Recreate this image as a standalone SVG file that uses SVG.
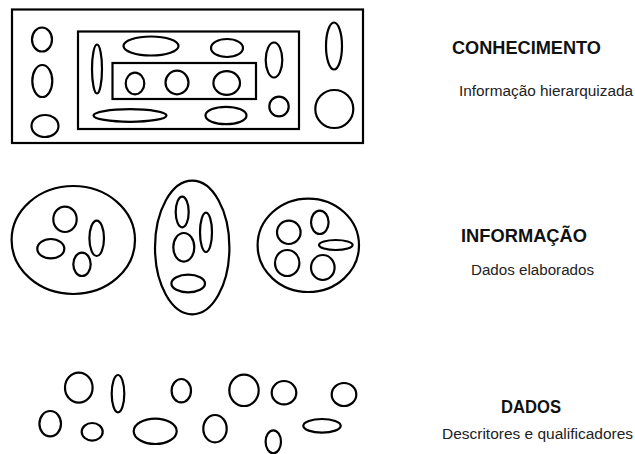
<svg xmlns="http://www.w3.org/2000/svg" width="635" height="454" viewBox="0 0 635 454">
  <style>
    .s { fill: none; stroke: #000; stroke-width: 2.2; }
    .title { font-family: "Liberation Sans", Arial, sans-serif; font-weight: bold; font-size: 17.5px; fill: #111; }
    .sub { font-family: "Liberation Sans", Arial, sans-serif; font-size: 15.5px; fill: #222; }
  </style>
  <rect width="635" height="454" fill="#fff"/>

  <!-- Knowledge: nested frames holding organised elements -->
  <g id="conhecimento">
    <rect class="s" x="12" y="9.5" width="351" height="133.5"/>
    <rect class="s" x="78" y="31.5" width="221" height="97.5"/>
    <rect class="s" x="112.5" y="63" width="143.5" height="36"/>
    <ellipse class="s" cx="42" cy="39.5" rx="10" ry="12"/>
    <ellipse class="s" cx="42.3" cy="81" rx="10" ry="16"/>
    <ellipse class="s" cx="45" cy="126" rx="13.5" ry="11"/>
    <ellipse class="s" cx="97" cy="69" rx="5" ry="24.5"/>
    <ellipse class="s" cx="151" cy="46" rx="27.5" ry="9.5"/>
    <ellipse class="s" cx="227" cy="48" rx="16" ry="9"/>
    <ellipse class="s" cx="130" cy="115.5" rx="36.5" ry="6.3"/>
    <ellipse class="s" cx="226" cy="115.5" rx="20.5" ry="8.7"/>
    <ellipse class="s" cx="274" cy="60" rx="8.3" ry="17.5"/>
    <ellipse class="s" cx="279" cy="106.5" rx="9.7" ry="9.8"/>
    <ellipse class="s" cx="135" cy="83.5" rx="9.3" ry="10.8"/>
    <ellipse class="s" cx="177" cy="82.5" rx="11.5" ry="11.8"/>
    <ellipse class="s" cx="226.7" cy="83" rx="13.3" ry="11.8"/>
    <ellipse class="s" cx="334" cy="46" rx="8" ry="23.5"/>
    <ellipse class="s" cx="334.3" cy="109" rx="19" ry="19"/>
  </g>

  <!-- Information: grouped elements -->
  <g id="informacao">
    <ellipse class="s" cx="73.3" cy="240" rx="61.7" ry="54"/>
    <ellipse class="s" cx="65" cy="219.3" rx="11.7" ry="12.7"/>
    <ellipse class="s" cx="50.8" cy="248.7" rx="13.5" ry="9.7"/>
    <ellipse class="s" cx="96.7" cy="238.3" rx="7.3" ry="17.7"/>
    <ellipse class="s" cx="82" cy="264.3" rx="8.7" ry="11.7"/>

    <ellipse class="s" cx="192.2" cy="247.5" rx="37.2" ry="66.8"/>
    <ellipse class="s" cx="182.2" cy="212" rx="6.5" ry="15.3"/>
    <ellipse class="s" cx="206" cy="232.3" rx="6" ry="19.7"/>
    <ellipse class="s" cx="183.8" cy="247.3" rx="10.5" ry="14.3"/>
    <ellipse class="s" cx="188.2" cy="283.5" rx="16.8" ry="8.8"/>

    <ellipse class="s" cx="308.3" cy="245.3" rx="50.7" ry="46.7"/>
    <ellipse class="s" cx="288.8" cy="232.3" rx="11.8" ry="11.7"/>
    <ellipse class="s" cx="319.8" cy="222.3" rx="8.8" ry="11.7"/>
    <ellipse class="s" cx="335.8" cy="245" rx="16.8" ry="5"/>
    <ellipse class="s" cx="287.2" cy="263" rx="12.2" ry="13"/>
    <ellipse class="s" cx="322.8" cy="267.5" rx="11.8" ry="12.5"/>
  </g>

  <!-- Data: scattered elements -->
  <g id="dados">
    <ellipse class="s" cx="78.8" cy="387.7" rx="13.8" ry="15"/>
    <ellipse class="s" cx="118" cy="393.7" rx="6.3" ry="18.7"/>
    <ellipse class="s" cx="181.3" cy="390.7" rx="9.7" ry="11.7"/>
    <ellipse class="s" cx="244" cy="390.3" rx="14.7" ry="15.7"/>
    <ellipse class="s" cx="284" cy="392.7" rx="12.3" ry="11.7"/>
    <ellipse class="s" cx="344" cy="394.5" rx="12.3" ry="11.5"/>
    <ellipse class="s" cx="50.2" cy="423.7" rx="10.8" ry="12.7"/>
    <ellipse class="s" cx="92.2" cy="431.8" rx="10.5" ry="8.8"/>
    <ellipse class="s" cx="155.2" cy="431.3" rx="21.5" ry="12.7"/>
    <ellipse class="s" cx="215" cy="428.7" rx="11.7" ry="13.7"/>
    <ellipse class="s" cx="273.3" cy="441.8" rx="7.7" ry="11.5"/>
    <ellipse class="s" cx="322" cy="425.8" rx="18.7" ry="6.8"/>
  </g>

  <!-- Level captions -->
  <g id="legenda-conhecimento">
    <text class="title" x="452" y="54" textLength="149" lengthAdjust="spacingAndGlyphs">CONHECIMENTO</text>
    <text class="sub" x="459" y="96" textLength="174" lengthAdjust="spacingAndGlyphs">Informação hierarquizada</text>
  </g>
  <g id="legenda-informacao">
    <text class="title" x="461" y="242" textLength="126" lengthAdjust="spacingAndGlyphs">INFORMAÇÃO</text>
    <text class="sub" x="471" y="275" textLength="123" lengthAdjust="spacingAndGlyphs">Dados elaborados</text>
  </g>
  <g id="legenda-dados">
    <text class="title" x="501" y="413" textLength="60" lengthAdjust="spacingAndGlyphs">DADOS</text>
    <text class="sub" x="442" y="439" textLength="191" lengthAdjust="spacingAndGlyphs">Descritores e qualificadores</text>
  </g>
</svg>
